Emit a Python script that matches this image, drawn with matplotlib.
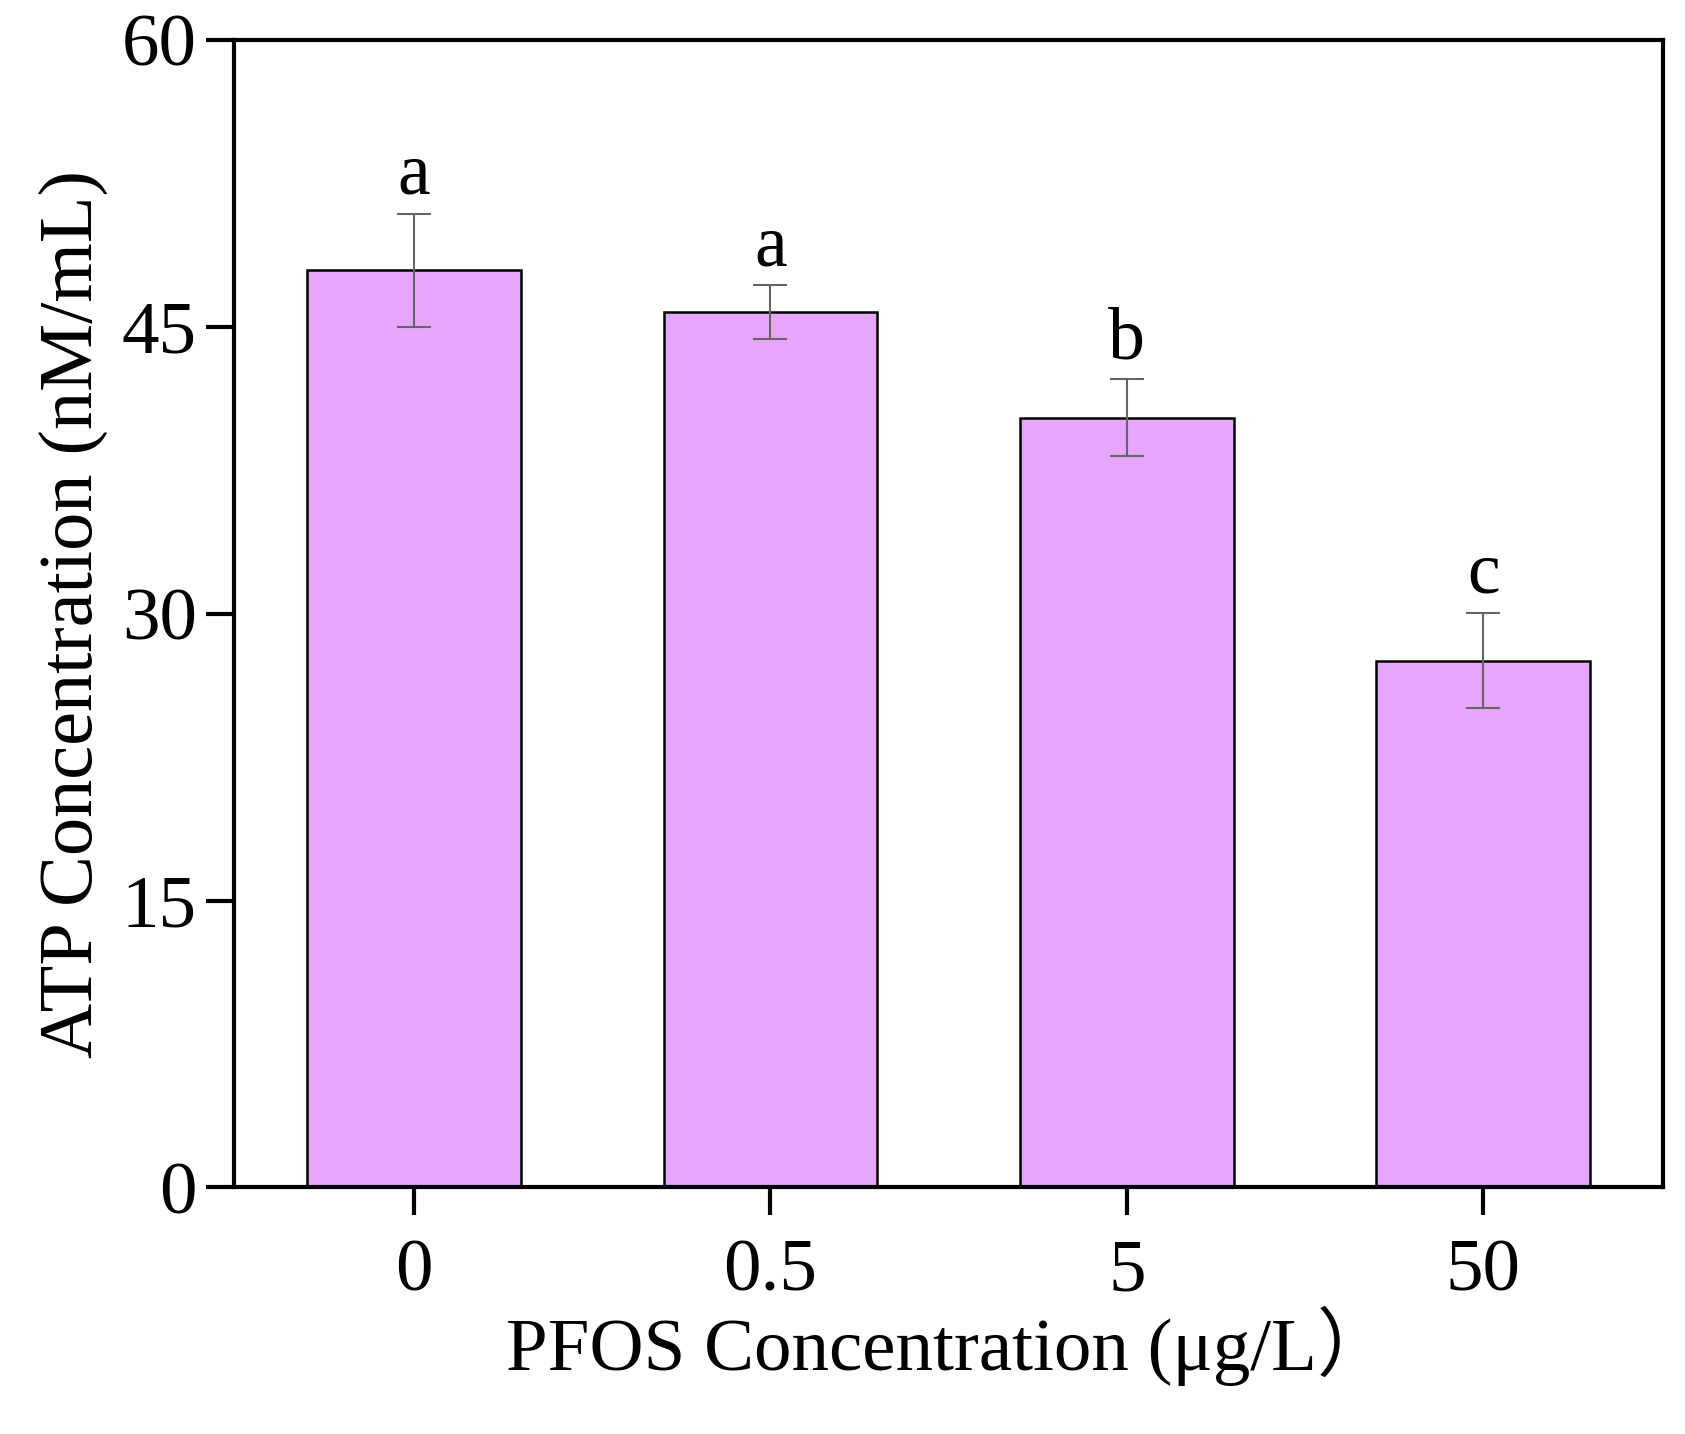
import numpy as np
import matplotlib.pyplot as plt

plt.rcParams.update({'font.family': ['Liberation Serif', 'Noto Sans CJK SC']})
plt.rcParams.update({'mathtext.fontset': 'stix'})

# data
groups = ['0', '0.5', '5', '50']
atp = [47.97, 45.77, 40.26, 27.55]
atp_err = [2.95, 1.40, 2.02, 2.50]
letters = ['a', 'a', 'b', 'c']

bar_color = '#e6a6fb'

fig = plt.figure(figsize=(16.85, 14.34), dpi=100)
ax = fig.add_axes([0.139, 0.172, 0.848, 0.800])

x = np.arange(len(groups))
ax.bar(x, atp, width=0.6, color=bar_color, edgecolor='black', linewidth=1.8,
       yerr=atp_err, ecolor='#666666',
       error_kw={'elinewidth': 1.5, 'capsize': 12, 'capthick': 1.5})

for xi, v, e, lab in zip(x, atp, atp_err, letters):
    ax.annotate(lab, xy=(xi, v + e), xytext=(0, 3), textcoords='offset points',
                ha='center', va='bottom', fontsize=53)

ax.set_xlim(-0.505, 3.505)
ax.set_ylim(0, 60)
ax.set_yticks([0, 15, 30, 45, 60])
ax.set_xticks(x)
ax.set_xticklabels(groups)

ax.set_xlabel('PFOS Concentration (μg/L）', fontsize=54, labelpad=0)
ax.set_ylabel('ATP Concentration (nM/mL)', fontsize=55, labelpad=10)

ax.tick_params(direction='out', axis='both', labelsize=54, length=20, width=3, pad=7)
ax.tick_params(axis='x', pad=17)
for sp in ax.spines.values():
    sp.set_linewidth(3)

fig.savefig('out.png', dpi=100)
